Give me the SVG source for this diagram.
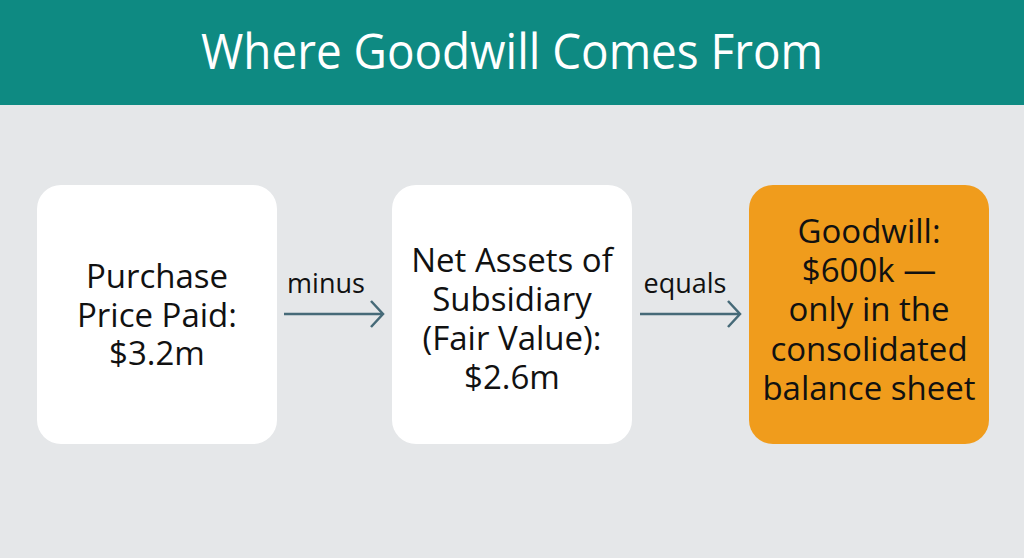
<svg xmlns="http://www.w3.org/2000/svg" width="1024" height="558" viewBox="0 0 1024 558">
<style>
.t{font-family:"Open Sans","Noto Sans",sans-serif;fill:#111;text-anchor:middle}
.n{font-size:33px}
.l{font-size:27px}
.c{stroke:#466A78;stroke-width:2.5;fill:none}
</style>
<defs>
<marker id="ah" markerWidth="16" markerHeight="28" refX="14" refY="14" orient="auto" markerUnits="userSpaceOnUse">
<path d="M2,1 L14,14 L2,27" fill="none" stroke="#466A78" stroke-width="2.5"/>
</marker>
</defs>
<rect width="1024" height="558" fill="#E5E7E9"/>
<g id="header">
<rect width="1024" height="105" fill="#0E8A82"/>
<text x="512" y="69" class="t" textLength="622" lengthAdjust="spacingAndGlyphs" style="font-size:49px;fill:#fff;font-weight:500">Where Goodwill Comes From</text>
</g>
<g id="connectors">
<line x1="284" y1="314" x2="383" y2="314" class="c" marker-end="url(#ah)"/>
<text x="326" y="293" class="t l">minus</text>
<line x1="640" y1="314" x2="740" y2="314" class="c" marker-end="url(#ah)"/>
<text x="685" y="293" class="t l">equals</text>
</g>
<g id="purchase">
<rect x="37" y="185" width="240" height="259" rx="24" fill="#fff"/>
<text class="t n"><tspan x="157" y="288">Purchase</tspan><tspan x="157" y="327">Price Paid:</tspan><tspan x="157" y="365">$3.2m</tspan></text>
</g>
<g id="netassets">
<rect x="392" y="185" width="240" height="259" rx="24" fill="#fff"/>
<text class="t n"><tspan x="512" y="272">Net Assets of</tspan><tspan x="512" y="311">Subsidiary</tspan><tspan x="512" y="350">(Fair Value):</tspan><tspan x="512" y="389">$2.6m</tspan></text>
</g>
<g id="goodwill">
<rect x="749" y="185" width="240" height="259" rx="24" fill="#F09C1C"/>
<text class="t n"><tspan x="869" y="243">Goodwill:</tspan><tspan x="869" y="282">$600k —</tspan><tspan x="869" y="321">only in the</tspan><tspan x="869" y="361">consolidated</tspan><tspan x="869" y="400">balance sheet</tspan></text>
</g>
</svg>
